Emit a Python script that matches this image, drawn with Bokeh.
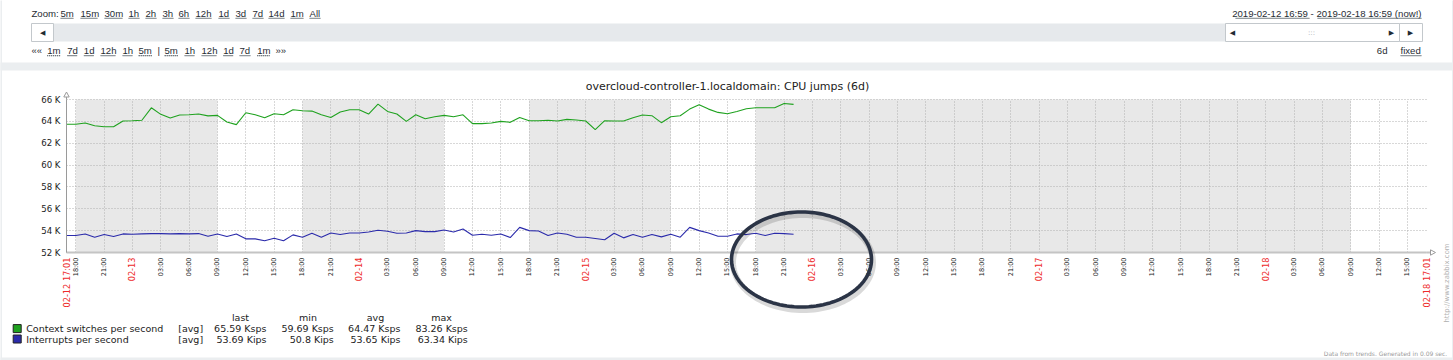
import math
from bokeh.plotting import figure
from bokeh.models import (Range1d, FixedTicker, Label, LinearAxis, Grid,
                          BoxAnnotation, PolyAnnotation)
from bokeh.embed import file_html
from bokeh.resources import INLINE

# ---------------- data ----------------
# hourly trend averages, first point 2019-02-12 17:00, values in K
context_switches_k = [
    63.73, 63.73, 63.85, 63.60, 63.50, 63.50, 64.03, 64.06, 64.10, 65.24,
    64.64, 64.30, 64.58, 64.60, 64.67, 64.50, 64.55, 63.94, 63.70, 64.79,
    64.60, 64.33, 64.70, 64.60, 65.06, 64.97, 64.94, 64.60, 64.36, 64.85,
    65.06, 65.06, 64.67, 65.58, 64.91, 64.67, 64.00, 64.60, 64.24, 64.42,
    64.55, 64.42, 64.60, 63.79, 63.79, 63.85, 64.00, 63.91, 64.36, 64.06,
    64.06, 64.10, 64.03, 64.18, 64.12, 64.03, 63.24, 64.06, 64.03, 64.03,
    64.33, 64.58, 64.52, 63.88, 64.42, 64.52, 65.12, 65.52, 65.12, 64.82,
    64.70, 64.91, 65.15, 65.24, 65.24, 65.24, 65.64, 65.55]
interrupts_k = [
    53.55, 53.55, 53.70, 53.40, 53.64, 53.46, 53.70, 53.67, 53.70, 53.73,
    53.73, 53.70, 53.73, 53.70, 53.73, 53.49, 53.70, 53.46, 53.70, 53.25,
    53.25, 53.07, 53.31, 53.07, 53.61, 53.40, 53.76, 53.40, 53.79, 53.64,
    53.79, 53.79, 53.88, 54.03, 53.94, 53.76, 53.79, 54.00, 53.91, 53.91,
    54.06, 53.88, 54.15, 53.58, 53.67, 53.58, 53.70, 53.37, 54.30, 54.00,
    53.97, 53.55, 53.79, 53.67, 53.40, 53.40, 53.28, 53.16, 53.76, 53.34,
    53.64, 53.40, 53.64, 53.43, 53.67, 53.40, 54.30, 54.00, 53.79, 53.49,
    53.49, 53.70, 53.64, 53.76, 53.55, 53.76, 53.73, 53.67]
first_point_hour = 17              # hours since 2019-02-12 00:00
window_start_hour = 17 + 1 / 60    # 02-12 17:01
window_hours = 144                 # 6d
nonwork_start_hour = [18, 42, 66, 90]
nonwork_end_hour = [33, 57, 81, 153]
y_ticks = [52000, 54000, 56000, 58000, 60000, 62000, 64000, 66000]
y_tick_labels = ["52 K", "54 K", "56 K", "58 K", "60 K", "62 K", "64 K", "66 K"]
date_tick_hours = [24, 48, 72, 96, 120, 144]
date_tick_labels = ["02-13", "02-14", "02-15", "02-16", "02-17", "02-18"]
start_label = "02-12 17:01"
end_label = "02-18 17:01"
title_text = "overcloud-controller-1.localdomain: CPU jumps (6d)"
legend_names = ["Context switches per second", "Interrupts per second"]
legend_func = ["[avg]", "[avg]"]
legend_last = ["65.59 Ksps", "53.69 Kips"]
legend_min = ["59.69 Ksps", "50.8 Kips"]
legend_avg = ["64.47 Ksps", "53.65 Kips"]
legend_max = ["83.26 Ksps", "63.34 Kips"]
zoom_links = ["5m", "15m", "30m", "1h", "2h", "3h", "6h", "12h", "1d", "3d", "7d", "14d", "1m", "All"]
nav_links = ["1m", "7d", "1d", "12h", "1h", "5m", "5m", "1h", "12h", "1d", "7d", "1m"]
period_text = "2019-02-12 16:59 - 2019-02-18 16:59 (now!)"

GREEN = "#1fa21f"
BLUE = "#2b2bab"
TXT = "#1f2c33"

# ---------------- layout (reference pixel geometry) ----------------
W, H, M = 1453, 360, 0
FL, FR, FT, FB = 66, 1426, 99, 252     # plot area in reference pixels
X0 = window_start_hour
X1 = window_start_hour + window_hours
Y0, Y1 = 52000, 66000


def hx(px):
    return X0 + (px - FL) * (X1 - X0) / (FR - FL)


def vy(py):
    return Y0 + (FB - py) * (Y1 - Y0) / (FB - FT)


# the frame covers the whole canvas; the ranges are extended so that the
# data window lands on the plot area of the reference
p = figure(width=W, height=H,
           x_range=Range1d(hx(M), hx(M + W)), y_range=Range1d(vy(M + H), vy(M)),
           x_axis_type=None, y_axis_type=None,
           output_backend="svg", toolbar_location=None,
           min_border_left=0, min_border_right=0, min_border_top=0, min_border_bottom=0)
p.title.visible = False
p.outline_line_color = None
p.border_fill_color = "white"
p.background_fill_color = "white"

# non-working time bands
p.quad(left=nonwork_start_hour, right=nonwork_end_hour, bottom=Y0, top=Y1,
       fill_color="#e8e8e8", line_color=None, level="image")

# grid
time_ticks = list(range(18, 160, 3))
gx = Grid(dimension=0, ticker=FixedTicker(ticks=time_ticks), grid_line_color="#b0b0b0",
          grid_line_dash="1 2", grid_line_width=1, bounds=(X0, X1))
gy = Grid(dimension=1, ticker=FixedTicker(ticks=y_ticks), grid_line_color="#b0b0b0",
          grid_line_dash="1 2", grid_line_width=1, bounds=(Y0, Y1))
try:
    gx.cross_bounds = (Y0, Y1)
    gy.cross_bounds = (X0, X1)
    p.add_layout(gx)
    p.add_layout(gy)
except Exception:
    p.segment(x0=time_ticks, x1=time_ticks, y0=Y0, y1=Y1, line_color="#b0b0b0",
              line_dash="1 2", level="underlay")
    p.segment(x0=X0, x1=X1, y0=y_ticks, y1=y_ticks, line_color="#b0b0b0",
              line_dash="1 2", level="underlay")

# data
hours = [first_point_hour + i for i in range(len(context_switches_k))]
p.line(hours, [v * 1000 for v in context_switches_k], line_color=GREEN, line_width=1.1)
p.line(hours, [v * 1000 for v in interrupts_k], line_color=BLUE, line_width=1.1)

# axes (fixed inside the frame)
xa = LinearAxis(fixed_location=Y0, bounds=(X0, X1), ticker=FixedTicker(ticks=time_ticks))
xa.major_label_overrides = {h: ("" if h % 24 == 0 else "%02d:00" % (h % 24)) for h in time_ticks}
xa.major_label_orientation = math.pi / 2
xa.major_label_text_font = "DejaVu Sans"
xa.major_label_text_font_size = "6.5px"
xa.major_label_text_color = "#222222"
xa.major_label_standoff = 5
xa.major_tick_out = 0
xa.major_tick_in = 0
xa.minor_tick_out = 0
xa.minor_tick_in = 0
xa.axis_line_color = "#c4c4c4"
xa.axis_line_width = 2
p.add_layout(xa, "below")

date_ticks = [X0] + date_tick_hours + [X1]
xd = LinearAxis(fixed_location=Y0, bounds=(X0 - 0.5, X1 + 0.5), ticker=FixedTicker(ticks=date_ticks))
xd.major_label_overrides = dict(zip(date_ticks, [start_label] + date_tick_labels + [end_label]))
xd.major_label_orientation = math.pi / 2
xd.major_label_text_font = "DejaVu Sans"
xd.major_label_text_font_size = "8.2px"
xd.major_label_text_color = "#ee2b2b"
xd.major_label_standoff = 5
xd.major_tick_out = 0
xd.major_tick_in = 0
xd.minor_tick_out = 0
xd.minor_tick_in = 0
xd.axis_line_color = None
p.add_layout(xd, "below")

ya = LinearAxis(fixed_location=X0, bounds=(Y0, Y1), ticker=FixedTicker(ticks=y_ticks))
ya.major_label_overrides = dict(zip(y_ticks, y_tick_labels))
ya.major_label_text_font = "DejaVu Sans"
ya.major_label_text_font_size = "8.6px"
ya.major_label_text_color = "#222222"
ya.major_label_standoff = 6
ya.major_tick_out = 0
ya.major_tick_in = 0
ya.minor_tick_out = 0
ya.minor_tick_in = 0
ya.axis_line_color = "#9a9a9a"
p.add_layout(ya, "left")


def lab(text, x, y, size, color=TXT, font="DejaVu Sans", align="left", baseline="middle", angle=0.0):
    p.add_layout(Label(x=hx(x), y=vy(y), text=text, text_font=font, text_font_size=size,
                       text_color=color, text_align=align, text_baseline=baseline, angle=angle))


def box(l, r, t, b, fill=None, line=None, dash="solid", lw=1, fill_alpha=1.0):
    p.add_layout(BoxAnnotation(left=hx(l), right=hx(r), top=vy(t), bottom=vy(b),
                               fill_color=fill if fill else "white",
                               fill_alpha=fill_alpha if fill else 0.0,
                               line_color=line if line else "white",
                               line_alpha=1.0 if line else 0.0,
                               line_width=lw, line_dash=dash, level="annotation"))


def poly(pts, color, lw=1, alpha=1.0, fill=None):
    p.add_layout(PolyAnnotation(xs=[hx(a) for a, _ in pts], ys=[vy(b) for _, b in pts],
                                line_color=color, line_width=lw, line_alpha=alpha,
                                fill_color=fill if fill else "white",
                                fill_alpha=1.0 if fill else 0.0))


# page chrome: panel backgrounds
box(-5, 1460, 62, 70, fill="#ebeef0")
box(-5, 1460, 357, 365, fill="#ebeef0")
box(-5, 1.5, -5, 365, fill="#ebeef0")
box(1451.5, 1460, -5, 365, fill="#ebeef0")

# axis arrows
poly([(66, 99), (66, 96)], "#9a9a9a")
poly([(63.3, 96.5), (66, 91.5), (68.7, 96.5)], "#9a9a9a", fill="white")
poly([(1426, 252), (1430, 252)], "#c4c4c4", lw=2)
poly([(1430, 249.3), (1435, 252), (1430, 254.7)], "#9a9a9a", fill="white")

# title
lab(title_text, 727, 86, "11px", color="#222222", align="center")

# toolbar: zoom links
lab("Zoom:", 31, 12.7, "9.6px", font="Liberation Sans")
zoom_lr = [(60, 73), (80, 97), (104, 122), (128, 139), (145, 156), (162, 173), (178, 189),
           (195, 211), (218, 229), (235, 246), (252, 263), (268, 284), (290, 303), (309, 320)]
for t, (l, r) in zip(zoom_links, zoom_lr):
    lab(t, l, 12.7, "9.6px", font="Liberation Sans")
    box(l, r, 17.8, 17.8, line="#5a646b", dash="1 1")

# scrollbar
box(53, 1225, 23, 41, fill="#e6e9ec")
box(31, 53, 23, 41, fill="white", line="#c3c8cc")
box(1225, 1399, 23, 41, fill="white", line="#c3c8cc")
box(1399, 1422, 23, 41, fill="white", line="#c3c8cc")
lab("\u25C0", 42.3, 32.5, "7px", align="center")
lab("\u25C0", 1232, 32.5, "7px", align="center")
lab(":::", 1311, 32, "7px", color="#a0a6aa", align="center")
lab("\u25B6", 1391, 32.5, "7px", align="center")
lab("\u25B6", 1410, 32.5, "7px", align="center")

# period text
lab(period_text, 1421, 12.7, "9.6px", font="Liberation Sans", align="right")
box(1235, 1309, 17.8, 17.8, line="#5a646b", dash="1 1")
box(1317, 1421, 17.8, 17.8, line="#5a646b", dash="1 1")

# navigation row
lab("\u00AB\u00AB", 31, 50, "9.6px", font="Liberation Sans")
nav_lr = [(46.7, 60), (66.7, 76.7), (83.3, 93.3), (100, 115), (122, 132), (138, 151.7),
          (164, 177.7), (184, 194), (201, 216), (222.7, 232.7), (239, 250), (256.7, 269.3)]
for t, (l, r) in zip(nav_links, nav_lr):
    lab(t, l, 50, "9.6px", font="Liberation Sans")
    box(l, r, 55.2, 55.2, line="#5a646b", dash="1 1")
lab("|", 158.3, 50, "9.6px", font="Liberation Sans", align="center")
lab("\u00BB\u00BB", 275, 50, "9.6px", font="Liberation Sans")
lab("6d", 1387, 50, "9.6px", font="Liberation Sans", align="right")
lab("fixed", 1400, 50, "9.6px", font="Liberation Sans")
box(1400, 1421, 55.2, 55.2, line="#5a646b", dash="1 1")

# legend
for t, cx in zip(["last", "min", "avg", "max"], [240, 307.5, 375, 441]):
    lab(t, cx, 317.3, "9.5px", color="#222222", align="center")
sq_fill = [GREEN, BLUE]
for i, ry in enumerate([328.3, 338.7]):
    box(12.7, 20.7, ry - 4.2, ry + 3.8, fill=sq_fill[i], line="#222222")
    lab(legend_names[i], 25.7, ry, "9.5px", color="#222222")
    lab(legend_func[i], 177.7, ry, "9.5px", color="#222222")
    lab(legend_last[i], 266, ry, "9.5px", color="#222222", align="right")
    lab(legend_min[i], 333.3, ry, "9.5px", color="#222222", align="right")
    lab(legend_avg[i], 400, ry, "9.5px", color="#222222", align="right")
    lab(legend_max[i], 467.3, ry, "9.5px", color="#222222", align="right")

# side and footer notes
lab("http://www.zabbix.com", 1446.7, 322, "6.9px", color="#b0b0b0", angle=math.pi / 2)
lab("Data from trends. Generated in 0.09 sec.", 1446.7, 352.7, "6px", color="#9a9a9a", align="right")

# hand-drawn highlight ellipse
cx, cy, rx, ry = 801, 259, 70, 47.5
n = 120
shadow = [(cx + 1.5 + rx * math.cos(2 * math.pi * k / n), cy + 3 + ry * math.sin(2 * math.pi * k / n)) for k in range(n)]
ring = [(cx + rx * math.cos(2 * math.pi * k / n), cy + ry * math.sin(2 * math.pi * k / n)) for k in range(n)]
poly(shadow, "#000000", lw=6, alpha=0.15)
poly(ring, "#2b3446", lw=3.6)

open("out.html", "w").write(file_html(p, INLINE))
